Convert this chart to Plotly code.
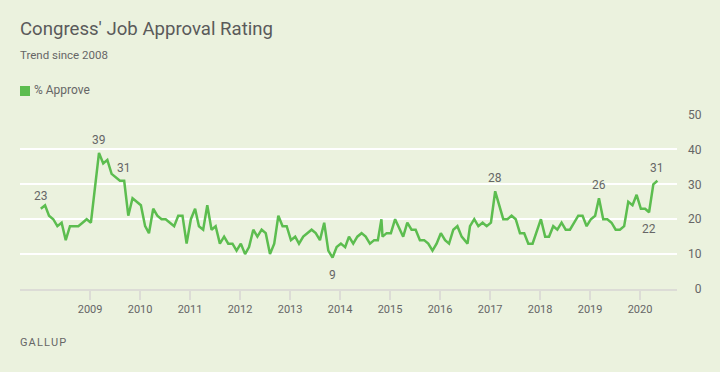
import plotly.graph_objects as go

# ---- data ----
dates = [
    "2008-01-07","2008-02-07","2008-03-07","2008-04-07","2008-05-07","2008-06-07",
    "2008-07-07","2008-08-07","2008-09-07","2008-10-07","2008-11-07","2008-12-07",
    "2009-01-07","2009-03-07","2009-04-07","2009-05-07","2009-06-07","2009-07-07",
    "2009-08-07","2009-09-07","2009-10-07","2009-11-07","2009-12-07",
    "2010-01-07","2010-02-07","2010-03-07","2010-04-07","2010-05-07","2010-06-07",
    "2010-07-07","2010-08-07","2010-09-07","2010-10-07","2010-11-07","2010-12-07",
    "2011-01-07","2011-02-07","2011-03-07","2011-04-07","2011-05-07","2011-06-07",
    "2011-07-07","2011-08-07","2011-09-07","2011-10-07","2011-11-07","2011-12-07",
    "2012-01-07","2012-02-07","2012-03-07","2012-04-07","2012-05-07","2012-06-07",
    "2012-07-07","2012-08-07","2012-09-07","2012-10-07","2012-11-07","2012-12-07",
    "2013-01-07","2013-02-07","2013-03-07","2013-04-07","2013-05-07","2013-06-07",
    "2013-07-07","2013-08-07","2013-09-07","2013-10-07","2013-11-07","2013-12-07",
    "2014-01-07","2014-02-07","2014-03-07","2014-04-07","2014-05-07","2014-06-07",
    "2014-07-07","2014-08-07","2014-09-07","2014-10-04","2014-10-30","2014-11-07",
    "2014-12-07",
    "2015-01-07","2015-02-07","2015-04-07","2015-05-07","2015-06-07",
    "2015-07-07","2015-08-07","2015-09-07","2015-10-07","2015-11-07","2015-12-07",
    "2016-01-07","2016-02-07","2016-03-07","2016-04-07","2016-05-07","2016-06-07",
    "2016-07-20","2016-08-07","2016-09-07","2016-10-07","2016-11-07","2016-12-07",
    "2017-01-07","2017-02-07","2017-04-07","2017-05-07","2017-06-07",
    "2017-07-07","2017-08-07","2017-09-07","2017-10-07","2017-11-07",
    "2018-01-07","2018-02-07","2018-03-07","2018-04-07","2018-05-07","2018-06-07",
    "2018-07-07","2018-08-07","2018-10-07","2018-11-07","2018-12-07",
    "2019-01-07","2019-02-07","2019-03-07","2019-04-07","2019-05-07","2019-06-07",
    "2019-07-07","2019-08-07","2019-09-07","2019-10-07","2019-11-07","2019-12-07",
    "2020-01-07","2020-02-07","2020-03-07","2020-04-07","2020-05-07",
]
approve = [
    23, 24, 21, 20, 18, 19, 14, 18, 18, 18, 19, 20,
    19, 39, 36, 37, 33, 32, 31, 31, 21, 26, 25,
    24, 18, 16, 23, 21, 20, 20, 19, 18, 21, 21, 13,
    20, 23, 18, 17, 24, 17, 18, 13, 15, 13, 13, 11,
    13, 10, 12, 17, 15, 17, 16, 10, 13, 21, 18, 18,
    14, 15, 13, 15, 16, 17, 16, 14, 19, 11, 9, 12,
    13, 12, 15, 13, 15, 16, 15, 13, 14, 14, 20, 15,
    16,
    16, 20, 15, 19, 17, 17, 14, 14, 13, 11, 13,
    16, 14, 13, 17, 18, 15, 13, 18, 20, 18, 19, 18,
    19, 28, 20, 20, 21, 20, 16, 16, 13, 13,
    20, 15, 15, 18, 17, 19, 17, 17, 21, 21, 18,
    20, 21, 26, 20, 20, 19, 17, 17, 18, 25, 24, 27,
    23, 23, 22, 30, 31,
]

series_name = "% Approve"

# labelled points: (date, value, above?)
label_dates = ["2008-01-07", "2009-03-07", "2009-09-07", "2013-11-07",
               "2017-02-07", "2019-03-07", "2020-03-07", "2020-05-07"]
label_values = [23, 39, 31, 9, 28, 26, 22, 31]
label_above = [True, True, True, False, True, True, False, True]

year_ticks = [str(y) for y in range(2009, 2021)]
y_ticks = [0, 10, 20, 30, 40, 50]

GREEN = "#5cbd4f"
BG = "#ebf2de"
TXT = "#666666"
FONT = "Roboto"

# plot area geometry (pixels)
W, H = 720, 372
L, R, T, B = 20, 43, 114, 83
PW, PH = W - L - R, H - T - B


def px_x(px):
    return (px - L) / PW


def px_y(py):
    return (H - B - py) / PH


fig = go.Figure()
fig.add_trace(go.Scatter(
    x=dates, y=approve, mode="lines", name=series_name,
    line=dict(color=GREEN, width=2.5),
    showlegend=False, hoverinfo="skip",
))

for d, v, above in zip(label_dates, label_values, label_above):
    fig.add_annotation(
        x=d, y=v, text=str(v), showarrow=False,
        xanchor="center", yanchor="middle",
        yshift=13 if above else -17,
        font=dict(family=FONT, size=12, color=TXT),
    )

# legend key (square + label)
fig.add_shape(
    type="rect", xref="paper", yref="paper",
    x0=px_x(20), x1=px_x(30), y0=px_y(96), y1=px_y(86),
    fillcolor=GREEN, line=dict(width=0),
)
fig.add_annotation(
    xref="paper", yref="paper", x=px_x(34), y=px_y(90.5),
    xanchor="left", yanchor="middle", text=series_name, showarrow=False,
    borderpad=0, borderwidth=0,
    font=dict(family=FONT, size=12, color=TXT),
)

fig.add_annotation(
    xref="paper", yref="paper", x=px_x(20), y=px_y(55), xanchor="left", yanchor="middle",
    text="Trend since 2008", showarrow=False, borderpad=0, borderwidth=0,
    font=dict(family=FONT, size=11.5, color=TXT),
)
fig.add_annotation(
    xref="paper", yref="paper", x=px_x(20), y=px_y(342), xanchor="left", yanchor="middle",
    text="\u200a".join("GALLUP"), showarrow=False, borderpad=0, borderwidth=0,
    font=dict(family=FONT, size=11, color=TXT),
)

fig.update_layout(
    width=W, height=H,
    paper_bgcolor=BG, plot_bgcolor=BG,
    margin=dict(l=L, r=R, t=T, b=B, autoexpand=False),
    font=dict(family=FONT, color=TXT),
    showlegend=False,
    title=dict(
        text="Congress' Job Approval Rating",
        x=20 / W, xref="container", xanchor="left",
        y=1 - 28 / H, yref="container", yanchor="middle",
        font=dict(family=FONT, size=18.6, color="#5a5a5a"),
    ),
    xaxis=dict(
        type="date",
        range=["2007-08-08", "2020-09-27"],
        tickvals=[f"{y}-01-01" for y in year_ticks],
        ticktext=year_ticks,
        showgrid=False, zeroline=False,
        showline=True, linecolor="#dcdcd6", linewidth=2,
        ticks="outside", ticklen=9, tickwidth=1.5, tickcolor="#dcdcd6",
        tickfont=dict(family=FONT, size=11, color=TXT),
        fixedrange=True,
    ),
    yaxis=dict(
        range=[0, 50.15], side="right",
        tickvals=y_ticks,
        ticktext=["\u2007" + str(t) if t < 10 else str(t) for t in y_ticks],
        showgrid=True, gridcolor="#ffffff", gridwidth=2,
        zeroline=False, showline=False, ticks="",
        tickfont=dict(family=FONT, size=12, color=TXT),
        ticklabelstandoff=10,
        fixedrange=True,
    ),
)

fig.write_html(
    "out.html",
    config={"displayModeBar": False},
    post_script="document.body.style.margin='0';document.body.style.background='%s';" % BG,
)
